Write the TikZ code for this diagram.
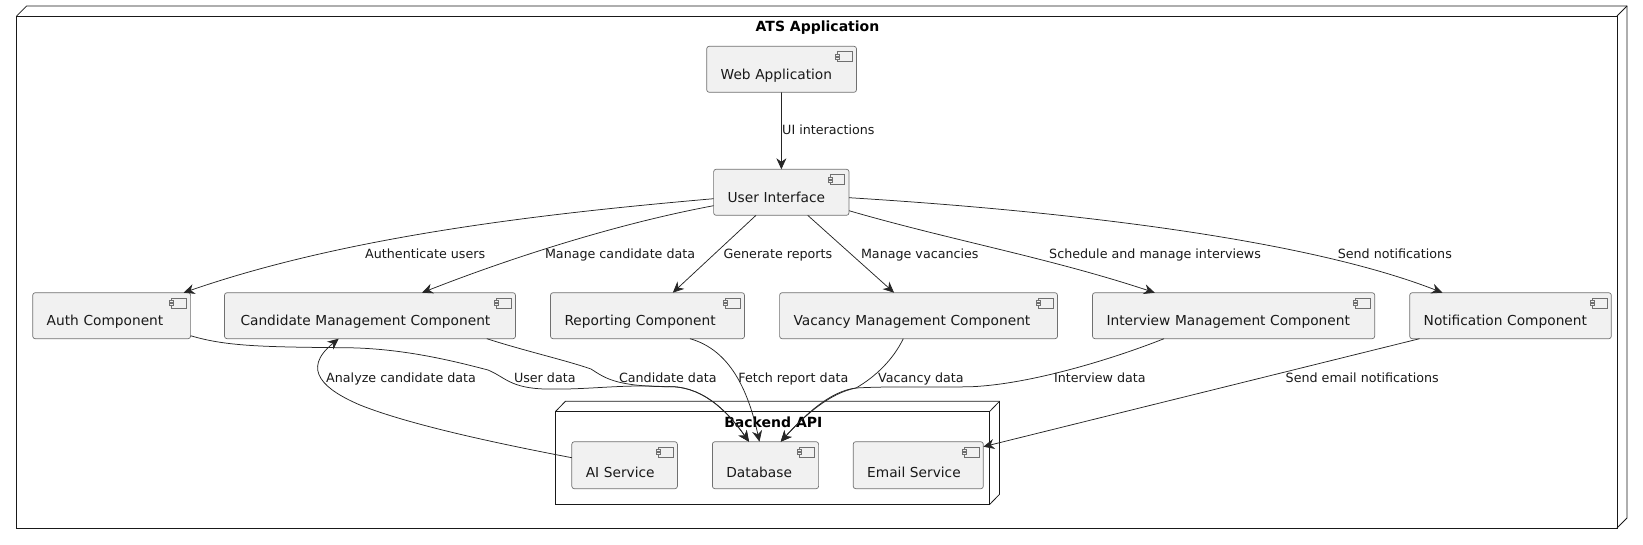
\documentclass[tikz,border=0pt]{standalone}
\usepackage{fontspec}
\setmainfont{DejaVu Sans}
\usetikzlibrary{arrows.meta}
\definecolor{boxfill}{HTML}{F1F1F1}
\definecolor{boxline}{HTML}{707070}
\tikzset{
	compbox/.style={draw=boxline, fill=boxfill, line width=0.7pt, rounded corners=2.5pt, anchor=north west,
		inner xsep=14pt, inner ysep=0pt, outer sep=0pt, align=left, text height=33pt, text depth=13pt, text=black!90,
		font=\fontsize{13.75pt}{16pt}\selectfont},
	packbox/.style={draw=black!90, line width=0.8pt, anchor=north west, inner sep=0pt, outer sep=0pt},
	packline/.style={draw=black!90, line width=0.8pt},
	packtitle/.style={anchor=base, inner sep=0pt, font=\fontsize{14pt}{16pt}\selectfont\bfseries},
	edgelabel/.style={anchor=base west, inner sep=0pt, text=black!90, font=\fontsize{12.7pt}{15pt}\selectfont},
	conn/.style={draw=black!85, line width=0.75pt, ->, >={Stealth[length=11pt, width=10pt, inset=3.5pt]}}
}
\newcommand{\compicon}[1]{
	\begin{scope}[shift={(#1.north east)}]
		\draw[draw=boxline, fill=boxfill, line width=0.6pt] (-19,5.3) rectangle (-4.5,15.3);
		\draw[draw=boxline, fill=boxfill, line width=0.6pt] (-21,8) rectangle (-17,10);
		\draw[draw=boxline, fill=boxfill, line width=0.6pt] (-21,11) rectangle (-17,13);
	\end{scope}
}
\begin{document}
\begin{tikzpicture}[x=1pt, y=-1pt]
	\useasboundingbox (0,0) rectangle (1643,544);

	% outer package
	\node[packbox, minimum width=1600.4pt, minimum height=512pt] (ats) at (16.6,16) {};
	\draw[packline] (ats.north west) -- (26.6,6) -- (1627,6) -- (1627,518) -- (ats.south east);
	\draw[packline] (ats.north east) -- (1627,6);
	\node[packtitle] (atstitle) at (817.5,31.7) {ATS Application};

	\node[compbox, text width=121.8pt] (web) at (706.7,46.3) {Web Application};
	\node[compbox, text width=107.4pt] (userif) at (713.6,169.3) {User Interface};

	\node[compbox, text width=129.9pt] (auth) at (32.7,292.7) {Auth Component};
	\node[compbox, text width=263pt] (candmgmt) at (224.5,292.7) {\hspace*{2pt}Candidate Management Component};
	\node[compbox, text width=166pt] (reporting) at (550.5,292.7) {Reporting Component};
	\node[compbox, text width=249.9pt] (vacmgmt) at (779.6,292.7) {Vacancy Management Component};
	\node[compbox, text width=254.2pt] (intmgmt) at (1092.5,292.7) {Interview Management Component};
	\node[compbox, text width=173.6pt] (notif) at (1409.7,292.7) {Notification Component};

	% backend package
	\node[packbox, minimum width=434.1pt, minimum height=93pt] (backend) at (555.7,411.3) {};
	\draw[packline] (backend.north west) -- (565.4,401.3) -- (999.5,401.3) -- (999.5,494.3) -- (backend.south east);
	\draw[packline] (backend.north east) -- (999.5,401.3);
	\node[packtitle] (backendtitle) at (773.3,427.7) {Backend API};

	\node[compbox, text width=77.6pt, text height=36pt, text depth=11pt] (aisvc) at (571.8,441.7) {AI Service};
	\node[compbox, text width=78.2pt, text height=36pt, text depth=11pt] (dbase) at (712.4,441.7) {Database};
	\node[compbox, text width=102.1pt, text height=36pt, text depth=11pt] (mailsvc) at (853.2,441.7) {Email Service};

	\foreach \n in {web,userif,auth,candmgmt,reporting,vacmgmt,intmgmt,notif,aisvc,dbase,mailsvc}
		\compicon{\n};

	\draw[conn] (web) -- (userif);
	\draw[conn] ([yshift=-6.4]userif.west) .. controls (550,213) and (350,235) .. ([xshift=-7]auth.north east);
	\draw[conn] ([yshift=-13.4]userif.west) .. controls (610,225) and (500,262) .. ([xshift=52]candmgmt.north);
	\draw[conn] ([xshift=-25.3]userif.south) -- ([xshift=25.3]reporting.north);
	\draw[conn] ([xshift=26.4]userif.south) -- ([xshift=-24.5]vacmgmt.north);
	\draw[conn] ([yshift=-18.4]userif.east) .. controls (950,240) and (1050,258) .. ([xshift=-78.8]intmgmt.north);
	\draw[conn] ([yshift=-5.4]userif.east) .. controls (1050,210) and (1300,237) .. ([xshift=-68]notif.north);

	\draw[conn] ([yshift=-20]auth.east) .. controls (225,346) and (260,347) .. (344,347.7)
		.. controls (400,348) and (450,360) .. (488,370)
		.. controls (505,377) and (510,388) .. (545,389)
		.. controls (590,390) and (620,384) .. (666,386.7)
		.. controls (700,385) and (725,408) .. ([xshift=-16.5]dbase.north);
	\draw[conn] ([xshift=116.8]candmgmt.south) .. controls (525,351) and (565,360) .. (591,369)
		.. controls (605,378) and (615,386) .. (666,386.7)
		.. controls (700,385) and (725,408) .. ([xshift=-16.5]dbase.north);
	\draw[conn] ([xshift=42.5]reporting.south) .. controls (730,350) and (748,390) .. ([xshift=-6]dbase.north);
	\draw[conn] ([xshift=-15.3]vacmgmt.south) .. controls (893,360) and (875,377) .. (856,388)
		.. controls (830,393) and (805,415) .. ([xshift=15.2]dbase.north);
	\draw[conn] ([xshift=-69.6]intmgmt.south) .. controls (1110,360) and (1030,384) .. (972,386.7)
		.. controls (940,387.5) and (890,386) .. (856,388)
		.. controls (830,391) and (805,415) .. ([xshift=15.2]dbase.north);
	\draw[conn] ([xshift=-91]notif.south) -- ([yshift=18.5]mailsvc.east);
	\draw[conn] ([yshift=7.5]aisvc.west) .. controls (500,444) and (410,425) .. (360,405)
		.. controls (325,390) and (300,370) .. ([xshift=-31.3]candmgmt.south);

	\node[edgelabel] (lblui) at (782,134.7) {UI interactions};
	\node[edgelabel] (lblauth) at (365,258.7) {Authenticate users};
	\node[edgelabel] (lblcand) at (544.8,258.7) {Manage candidate data};
	\node[edgelabel] (lblrep) at (723.3,258.7) {Generate reports};
	\node[edgelabel] (lblvac) at (860.8,258.7) {Manage vacancies};
	\node[edgelabel] (lblint) at (1049,258.7) {Schedule and manage interviews};
	\node[edgelabel] (lblnotif) at (1337.6,258.7) {Send notifications};
	\node[edgelabel] (lblai) at (326,382) {Analyze candidate data};
	\node[edgelabel] (lbluser) at (513.8,382) {User data};
	\node[edgelabel] (lblcdata) at (618.8,382) {Candidate data};
	\node[edgelabel] (lblfetch) at (738.2,382) {Fetch report data};
	\node[edgelabel] (lblvdata) at (878,382) {Vacancy data};
	\node[edgelabel] (lblidata) at (1053.8,382) {Interview data};
	\node[edgelabel] (lblemail) at (1285.5,382) {Send email notifications};
\end{tikzpicture}
\end{document}
